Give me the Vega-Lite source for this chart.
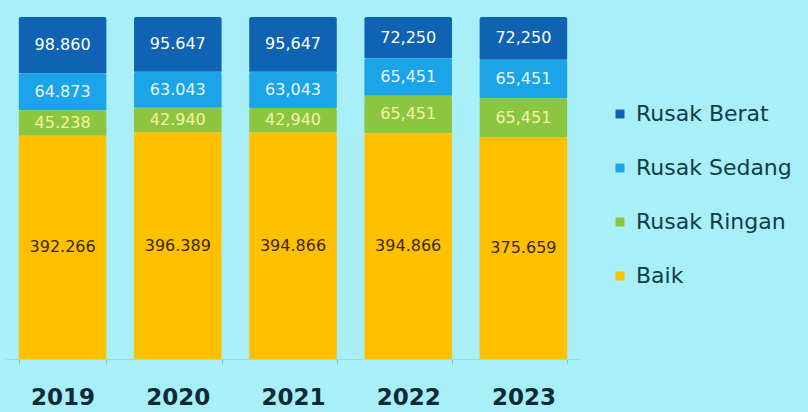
{
  "$schema": "https://vega.github.io/schema/vega-lite/v6.json",
  "width": 576,
  "height": 342,
  "autosize": {"type": "none"},
  "padding": {"left": 5, "top": 17, "right": 227, "bottom": 53},
  "background": "#A8EFF7",
  "config": {"view": {"stroke": null}, "font": "DejaVu Sans"},
  "data": {
    "values": [
      {"year": "2019", "cat": "Rusak Berat", "value": 98860, "label": "98.860"},
      {"year": "2019", "cat": "Rusak Sedang", "value": 64873, "label": "64.873"},
      {"year": "2019", "cat": "Rusak Ringan", "value": 45238, "label": "45.238"},
      {"year": "2019", "cat": "Baik", "value": 392266, "label": "392.266"},
      {"year": "2020", "cat": "Rusak Berat", "value": 95647, "label": "95.647"},
      {"year": "2020", "cat": "Rusak Sedang", "value": 63043, "label": "63.043"},
      {"year": "2020", "cat": "Rusak Ringan", "value": 42940, "label": "42.940"},
      {"year": "2020", "cat": "Baik", "value": 396389, "label": "396.389"},
      {"year": "2021", "cat": "Rusak Berat", "value": 95647, "label": "95,647"},
      {"year": "2021", "cat": "Rusak Sedang", "value": 63043, "label": "63,043"},
      {"year": "2021", "cat": "Rusak Ringan", "value": 42940, "label": "42,940"},
      {"year": "2021", "cat": "Baik", "value": 394866, "label": "394.866"},
      {"year": "2022", "cat": "Rusak Berat", "value": 72250, "label": "72,250"},
      {"year": "2022", "cat": "Rusak Sedang", "value": 65451, "label": "65,451"},
      {"year": "2022", "cat": "Rusak Ringan", "value": 65451, "label": "65,451"},
      {"year": "2022", "cat": "Baik", "value": 394866, "label": "394.866"},
      {"year": "2023", "cat": "Rusak Berat", "value": 72250, "label": "72,250"},
      {"year": "2023", "cat": "Rusak Sedang", "value": 65451, "label": "65,451"},
      {"year": "2023", "cat": "Rusak Ringan", "value": 65451, "label": "65,451"},
      {"year": "2023", "cat": "Baik", "value": 375659, "label": "375.659"}
    ]
  },
  "transform": [
    {"calculate": "indexof(['Baik','Rusak Ringan','Rusak Sedang','Rusak Berat'], datum.cat)", "as": "ord"},
    {"stack": "value", "groupby": ["year"], "sort": [{"field": "ord", "order": "ascending"}], "offset": "normalize", "as": ["v0", "v1"]},
    {"calculate": "(datum.v0 + datum.v1) / 2", "as": "mid"}
  ],
  "encoding": {
    "x": {
      "field": "year",
      "type": "nominal",
      "title": null,
      "scale": {"paddingInner": 0.24, "paddingOuter": 0.12},
      "axis": {
        "labelAngle": 0,
        "labelFont": "DejaVu Sans",
        "labelFontSize": 23,
        "labelFontWeight": "bold",
        "labelColor": "#0E2A36",
        "labelPadding": 22,
        "tickBand": "extent",
        "tickSize": 5,
        "tickColor": "#8FC4CC",
        "domainColor": "#9DDCE4",
        "grid": false
      }
    }
  },
  "layer": [
    {
      "mark": {"type": "bar", "cornerRadiusTopLeft": 2, "cornerRadiusTopRight": 2},
      "encoding": {
        "y": {"field": "v0", "type": "quantitative", "scale": {"domain": [0, 1]}, "axis": null},
        "y2": {"field": "v1"},
        "color": {
          "field": "cat",
          "type": "nominal",
          "scale": {
            "domain": ["Rusak Berat", "Rusak Sedang", "Rusak Ringan", "Baik"],
            "range": ["#1062B2", "#1BA4E8", "#8CC640", "#FFC000"]
          },
          "legend": {
            "title": null,
            "orient": "none",
            "legendX": 604,
            "legendY": 86,
            "symbolType": "square",
            "symbolSize": 80,
            "labelFont": "DejaVu Sans",
            "labelFontSize": 22,
            "labelColor": "#123C48",
            "labelOffset": 5,
            "rowPadding": 32
          }
        }
      }
    },
    {
      "mark": {"type": "text", "fontSize": 16, "baseline": "middle", "align": "center", "font": "DejaVu Sans"},
      "encoding": {
        "y": {"field": "mid", "type": "quantitative", "scale": {"domain": [0, 1]}},
        "text": {"field": "label"},
        "color": {
          "field": "cat",
          "type": "nominal",
          "scale": {
            "domain": ["Rusak Berat", "Rusak Sedang", "Rusak Ringan", "Baik"],
            "range": ["#FFFFFF", "#E8F6FF", "#F6F2A8", "#3A2A05"]
          },
          "legend": null
        }
      }
    }
  ],
  "resolve": {"scale": {"color": "independent"}}
}
